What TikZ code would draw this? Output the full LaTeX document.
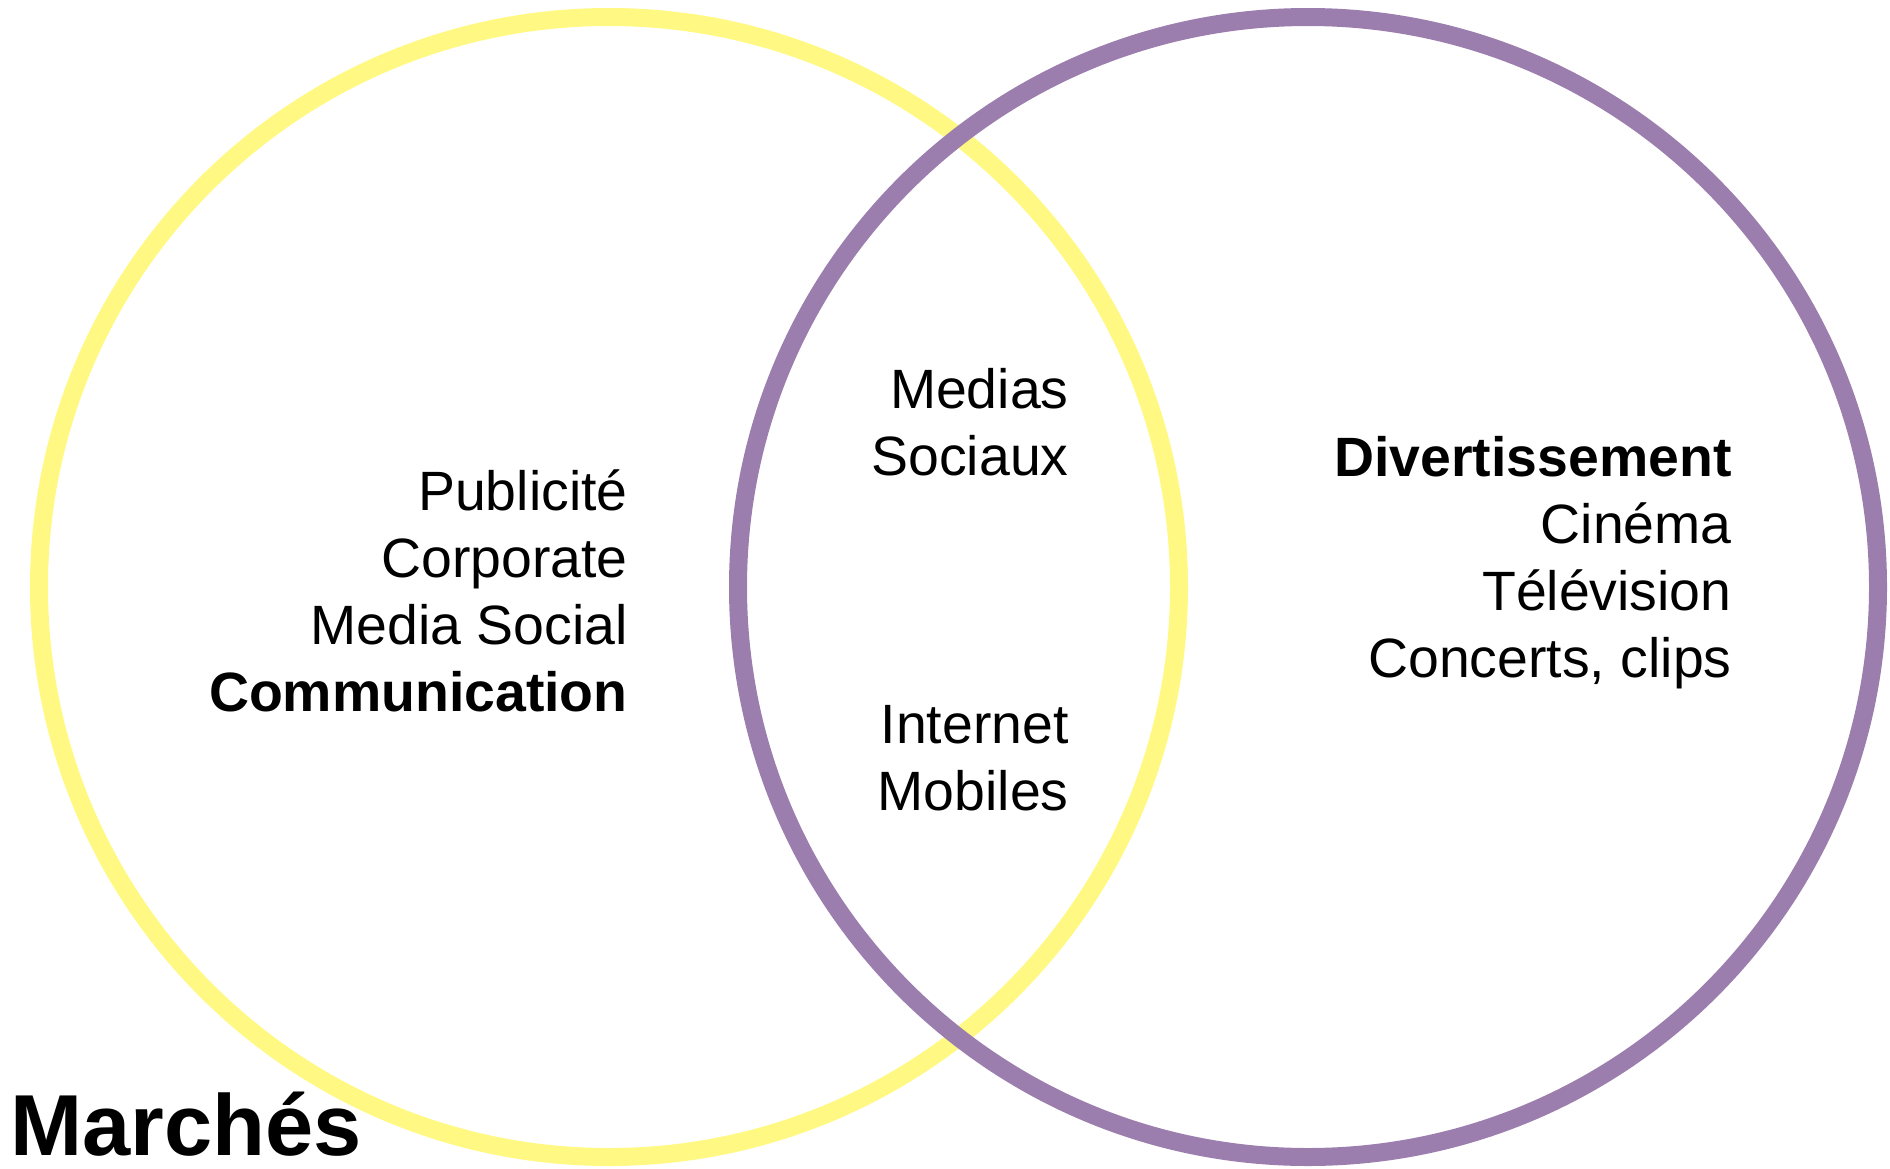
\documentclass[tikz,border=0pt]{standalone}
\usepackage{fontspec}
\setmainfont{Liberation Sans}
\usepackage{tikz}
\usetikzlibrary{calc}

\definecolor{marcheyellow}{RGB}{255,249,131}
\definecolor{marchepurple}{RGB}{155,126,174}

\tikzset{
    ring/.style = {line width=9pt},
    txt/.style = {anchor=base east, align=right, inner sep=0pt,
                  font=\fontsize{27.7}{33.5}\selectfont},
}

\begin{document}
\begin{tikzpicture}[x=0.5pt, y=-0.5pt]
    \useasboundingbox (0,0) rectangle (1890,1168);

    % the two markets
    \draw[ring, marcheyellow] (609,587) circle[radius=570];
    \draw[ring, marchepurple] (1308,587) circle[radius=570];

    % anchors sit on the last line of each block
    \node[txt] (comm) at (628,711) {Publicité\\Corporate\\Media Social\\\textbf{Communication}};
    \node[txt] (medias) at (1069,475) {Medias\\Sociaux};
    \node[txt] (mobiles) at (1069,810) {Internet\\Mobiles};
    \node[txt] (divert) at (1732,677) {\textbf{Divertissement}\\Cinéma\\Télévision\\Concerts, clips};

    \node[anchor=base west, inner sep=0pt, font=\fontsize{43.3}{50}\selectfont\bfseries]
        (marches) at (10,1155) {Marchés};

\end{tikzpicture}
\end{document}
